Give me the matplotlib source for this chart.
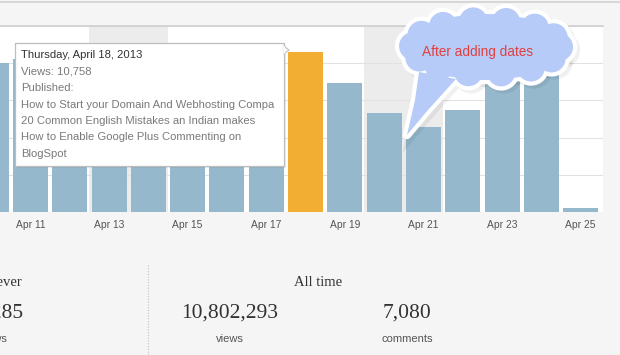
import numpy as np
import matplotlib.pyplot as plt
from matplotlib.patches import Circle, Ellipse, Polygon, Rectangle

# -----------------------------------------------------------------------
# Datos (vistas por dia, Apr 10 .. Apr 25)
# -----------------------------------------------------------------------

days = ["Apr 10", "Apr 11", "Apr 12", "Apr 13", "Apr 14", "Apr 15", "Apr 16",
        "Apr 17", "Apr 18", "Apr 19", "Apr 20", "Apr 21", "Apr 22", "Apr 23",
        "Apr 24", "Apr 25"]
views = [10000, 10300, 10100, 9700, 9400, 9900, 10200, 10400,
         10758, 8670, 6650, 5710, 6850, 9300, 9900, 270]
highlight_day = "Apr 18"
weekend_days = ["Apr 13", "Apr 14", "Apr 20", "Apr 21"]
tick_days = ["Apr 11", "Apr 13", "Apr 15", "Apr 17", "Apr 19", "Apr 21", "Apr 23", "Apr 25"]
grid_vals = [2500, 5000, 7500, 10000, 12500]

tooltip_title = "Thursday, April 18, 2013"
tooltip_lines = ["Views: 10,758", "Published:",
                 "How to Start your Domain And Webhosting Compa",
                 "20 Common English Mistakes an Indian makes",
                 "How to Enable Google Plus Commenting on",
                 "BlogSpot"]
cloud_text = "After adding dates"

alltime_views = "10,802,293"
alltime_comments = "7,080"
best_views = "14,285"

BAR = "#95b8cc"
ORANGE = "#f2ad33"
BG = "#f5f5f5"

W, H = 620, 355
fig = plt.figure(figsize=(W / 100, H / 100), dpi=100, facecolor=BG)

# -----------------------------------------------------------------------
# Grafica de barras
# -----------------------------------------------------------------------

ax = fig.add_axes([0, (H - 212) / H, 603 / W, 186 / H])
ax.set_facecolor("white")
x = np.arange(len(days))
colors = [ORANGE if d == highlight_day else BAR for d in days]

for d in weekend_days:
    i = days.index(d)
    ax.axvspan(i - 0.5, i + 0.5, color="#ececec", lw=0, zorder=0)

ax.bar(x, views, width=0.89, color=colors, lw=0, zorder=3)
ax.set_xlim(0.224, 15.57)
ax.set_ylim(0, 12500)
ax.set_yticks(grid_vals)
ax.set_yticklabels([])
ax.grid(axis="y", color="#e2e2e2", lw=0.8, zorder=1)
ax.axhline(12500, color="#cfcfcf", lw=1.2, zorder=2, clip_on=False)
ax.set_xticks([days.index(d) for d in tick_days])
ax.set_xticklabels(tick_days, fontsize=7.4, color="#555555", family="Liberation Sans")
ax.tick_params(length=0, pad=6)
for s in ax.spines.values():
    s.set_visible(False)

# -----------------------------------------------------------------------
# Capa de anotaciones en pixeles
# -----------------------------------------------------------------------

ov = fig.add_axes([0, 0, 1, 1], zorder=10)
ov.set_xlim(0, W)
ov.set_ylim(H, 0)
ov.axis("off")
ov.patch.set_alpha(0)

ov.plot([0, W], [1.5, 1.5], color="#d2d2d2", lw=1.2)

# tooltip
ov.add_patch(Rectangle((17, 45), 269, 123, fc="#000000", alpha=0.06, lw=0))
ov.add_patch(Rectangle((15, 43), 269, 123, fc="white", ec="#bdbdbd", lw=0.9))
ov.add_patch(Polygon([(283.5, 46), (289, 50), (283.5, 54)], closed=True,
                     fc="white", ec="#bdbdbd", lw=0.8))
ov.plot([284, 284], [46.6, 53.4], color="white", lw=1.2)
tt = dict(family="Liberation Sans", fontsize=8.1, va="center", ha="left")
ov.text(21, 55, tooltip_title, color="#333333", **tt)
for k, line in enumerate(tooltip_lines):
    ov.text(21, 71.5 + 16.5 * k, line, color="#7a7a7a", **tt)

# nube: elipse central con festones en el borde y una cola hacia Apr 21
cx0, cy0, ra, rb = 486, 47, 80, 33
angles = np.deg2rad(np.arange(0, 360, 26))
tail = [(419, 72), (415, 100), (407, 135), (428, 110), (456, 79)]


def cloud_shapes(dx=0, dy=0):
    shp = [Ellipse((cx0 + dx, cy0 + dy), 2 * ra, 2 * rb)]
    for a in angles:
        shp.append(Circle((cx0 + dx + (ra - 7) * np.cos(a),
                           cy0 + dy + (rb - 7) * np.sin(a)), 14))
    shp.append(Polygon([(px + dx, py + dy) for px, py in tail], closed=True))
    return shp


for p in cloud_shapes(3, 3):
    p.set(fc="#000000", alpha=0.06, ec="#000000", lw=6)
    ov.add_patch(p)
for p in cloud_shapes():
    p.set(fc="white", ec="white", lw=6, joinstyle="round")
    ov.add_patch(p)
for p in cloud_shapes():
    p.set(fc="#b7cbf8", lw=0)
    ov.add_patch(p)
ov.text(478, 52, cloud_text, color="#e0403e", fontsize=9.8,
        family="Liberation Sans", ha="center", va="center")

# -----------------------------------------------------------------------
# Resumen inferior
# -----------------------------------------------------------------------

ov.plot([148, 148], [265, 355], color="#bdbdbd", lw=0.8, ls=(0, (1, 1.5)))
serif = dict(family="Liberation Serif", color="#333333", va="center")
sans = dict(family="Liberation Sans", color="#555555", va="center", fontsize=8)

ov.text(22, 282, "Best ever", ha="right", fontsize=10.5, **serif)
ov.text(23, 313, best_views, ha="right", fontsize=15.5, **serif)
ov.text(8, 339, "views", ha="right", **sans)

ov.text(318, 282, "All time", ha="center", fontsize=10.5, **serif)
ov.text(230, 313, alltime_views, ha="center", fontsize=15.5, **serif)
ov.text(407, 313, alltime_comments, ha="center", fontsize=15.5, **serif)
ov.text(230, 339, "views", ha="center", **sans)
ov.text(407, 339, "comments", ha="center", **sans)

plt.savefig("out.png", dpi=100, facecolor=BG)
plt.close()
